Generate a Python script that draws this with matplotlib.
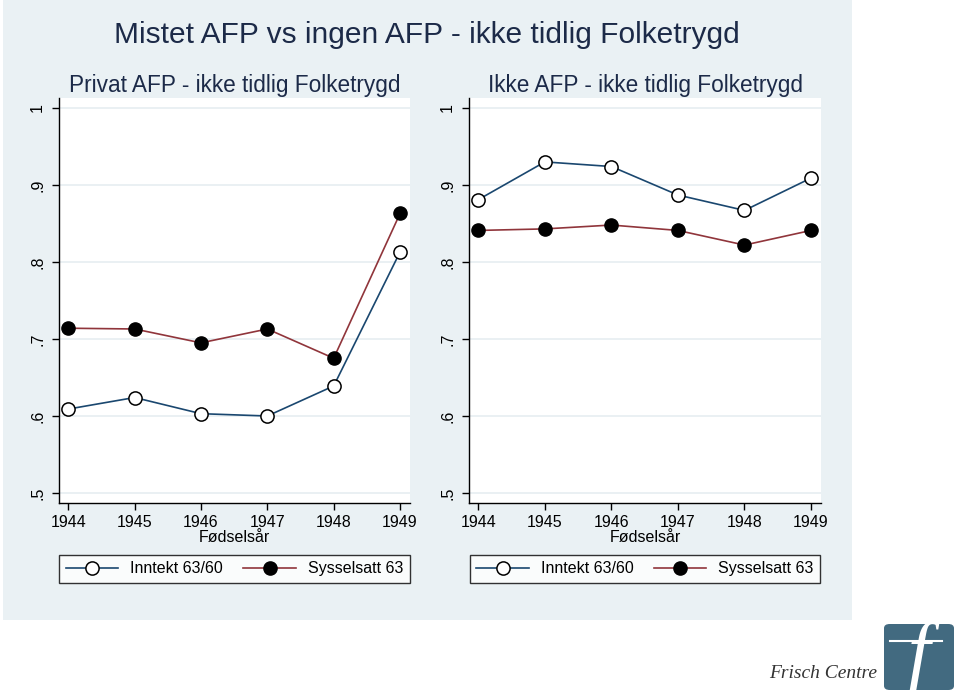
import numpy as np
import matplotlib.pyplot as plt
from matplotlib.patches import FancyBboxPatch, Rectangle

# data
years = [1944, 1945, 1946, 1947, 1948, 1949]
privat_inntekt = [0.609, 0.624, 0.603, 0.600, 0.639, 0.813]
privat_syss = [0.714, 0.713, 0.695, 0.713, 0.675, 0.863]
ikke_inntekt = [0.881, 0.930, 0.924, 0.887, 0.867, 0.909]
ikke_syss = [0.841, 0.843, 0.848, 0.841, 0.822, 0.841]

yticks = [0.5, 0.6, 0.7, 0.8, 0.9, 1.0]
ylabels = ['.5', '.6', '.7', '.8', '.9', '1']
titles = ['Privat AFP - ikke tidlig Folketrygd', 'Ikke AFP - ikke tidlig Folketrygd']
main_title = 'Mistet AFP vs ingen AFP - ikke tidlig Folketrygd'

navy = '#1a476f'
maroon = '#90353b'
bg = '#eaf1f4'
txt = '#1c2a48'

plt.rcParams['font.family'] = ['Liberation Sans', 'DejaVu Sans']

fig = plt.figure(figsize=(9.6, 6.96), dpi=100)
# graph region background (figure keeps white outside it)
fig.patches.append(Rectangle((3 / 960, 1 - 620 / 696), 849 / 960, 620 / 696,
                             transform=fig.transFigure, facecolor=bg, edgecolor='none', zorder=-5))

fig.text(427 / 960, 1 - 35 / 696, main_title, ha='center', va='center', fontsize=21.5, color=txt)

panels = [(59, 410, privat_inntekt, privat_syss), (469, 821, ikke_inntekt, ikke_syss)]
for i, (x0, x1, inn, sys) in enumerate(panels):
    ax = fig.add_axes([x0 / 960, 1 - 503 / 696, (x1 - x0) / 960, 405 / 696])
    ax.set_facecolor('white')
    ax.plot(years, inn, color=navy, lw=1.2, marker='o', ms=9.5, mfc='white', mec='black', mew=1.1,
            label='Inntekt 63/60', zorder=3)
    ax.plot(years, sys, color=maroon, lw=1.2, marker='o', ms=9.5, mfc='black', mec='black',
            label='Sysselsatt 63', zorder=3)
    ax.set_xlim(1943.86, 1949.15)
    ax.set_ylim(0.487, 1.013)
    ax.set_yticks(yticks)
    ax.set_yticklabels(ylabels, rotation=90, va='center')
    ax.set_xticks(years)
    ax.tick_params(labelsize=11.5, length=5, width=1, color='black', labelcolor='black')
    ax.tick_params(axis='y', pad=5)
    for t in yticks:
        ax.axhline(t, color='#e6eef1', lw=1.2, zorder=1)
    for s in ['top', 'right']:
        ax.spines[s].set_visible(False)
    for s in ['left', 'bottom']:
        ax.spines[s].set_linewidth(1)
    ax.set_xlabel('Fødselsår', fontsize=11.5, labelpad=0)
    ax.set_title(titles[i], fontsize=16.3, color=txt, pad=4)
    leg = ax.legend(loc='upper center', bbox_to_anchor=(0.5, -0.128), ncol=2, fontsize=11.5,
                    frameon=True, fancybox=False, handlelength=3.3, columnspacing=1.25,
                    borderpad=0.4, handletextpad=0.75, borderaxespad=0)
    leg.get_frame().set_edgecolor('black')
    leg.get_frame().set_linewidth(1)

# Frisch Centre logo
fig.text(877 / 960, 1 - 674 / 696, 'Frisch Centre', ha='right', va='center', fontsize=14,
         family='Liberation Serif', style='italic', color='#333333')
fig.patches.append(FancyBboxPatch((884 / 960, 1 - 690 / 696), 70 / 960, 66 / 696,
                                  boxstyle='round,pad=0,rounding_size=0.006',
                                  transform=fig.transFigure, facecolor='#426a80', edgecolor='none'))
fig.text(918 / 960, 1 - 658 / 696, 'f', ha='center', va='center', fontsize=58,
         family='Liberation Serif', style='italic', color='white')
fig.lines.append(plt.Line2D([890 / 960, 942 / 960], [1 - 641 / 696, 1 - 641 / 696],
                            transform=fig.transFigure, color='white', lw=1.5))

fig.savefig('out.png', dpi=100)
